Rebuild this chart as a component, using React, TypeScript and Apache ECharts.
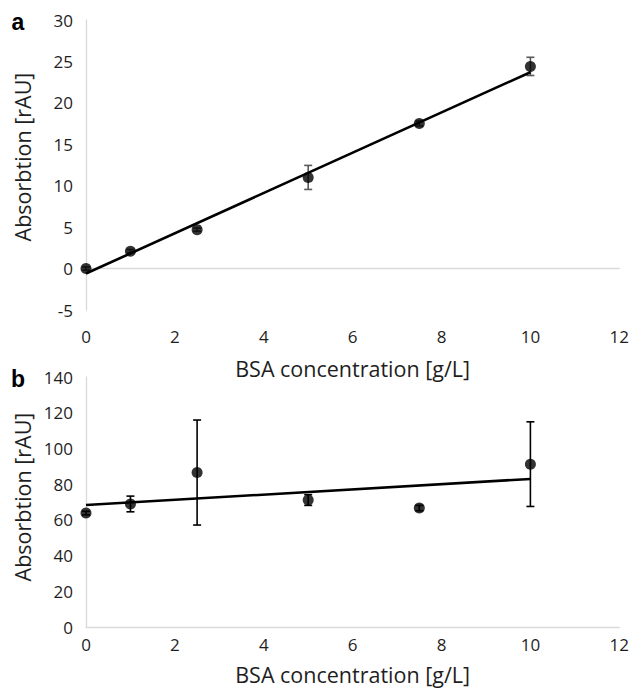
import React, { useEffect, useRef } from "react";
import * as echarts from "echarts";

// Concentrations (x)
const concentrations = [0, 1, 2.5, 5, 7.5, 10];
// Panel a: absorption means and error (±)
const absorptionA = [0.0, 2.1, 4.7, 11.0, 17.5, 24.4];
const errorA = [0.2, 0.2, 0.2, 1.45, 0.3, 1.1];
// Panel a: linear trendline endpoints [x, y]
const trendA = [
  [0, -0.6],
  [10, 23.7],
];
// Panel b: absorption means and error (±)
const absorptionB = [63.8, 68.9, 86.5, 71.1, 66.6, 91.2];
const errorB = [1.0, 4.4, 29.4, 3.0, 1.5, 23.7];
// Panel b: linear trendline endpoints [x, y]
const trendB = [
  [0, 68.3],
  [10, 82.9],
];
// Axis ranges / ticks
const xTicks = { min: 0, max: 12, interval: 2 };
const yTicksA = { min: -5, max: 30, interval: 5 };
const yTicksB = { min: 0, max: 140, interval: 20 };

const xTitle = "BSA concentration [g/L]";
const yTitle = "Absorbtion [rAU]";

const FONT = "'Open Sans', 'Liberation Sans', sans-serif";
const LABEL_COLOR = "#1e1e1e";
const AXIS_COLOR = "#d9d9d9";

function errorBarSeries(
  name: string,
  axisIndex: number,
  xs: number[],
  ys: number[],
  errs: number[],
  color: string
) {
  return {
    name,
    type: "custom",
    xAxisIndex: axisIndex,
    yAxisIndex: axisIndex,
    data: xs.map((x, i) => [x, ys[i], errs[i]]),
    z: 2,
    renderItem: (params: any, api: any) => {
      const x = api.value(0);
      const y = api.value(1);
      const e = api.value(2);
      const top = api.coord([x, y + e]);
      const bot = api.coord([x, y - e]);
      const hw = 4;
      const style = { stroke: color, lineWidth: 1.6 };
      return {
        type: "group",
        children: [
          { type: "line", shape: { x1: top[0], y1: top[1], x2: bot[0], y2: bot[1] }, style },
          { type: "line", shape: { x1: top[0] - hw, y1: top[1], x2: top[0] + hw, y2: top[1] }, style },
          { type: "line", shape: { x1: bot[0] - hw, y1: bot[1], x2: bot[0] + hw, y2: bot[1] }, style },
        ],
      };
    },
  };
}

export default function App() {
  const ref = useRef<HTMLDivElement>(null);

  useEffect(() => {
    if (!ref.current) return;
    const chart = echarts.init(ref.current, undefined, { renderer: "svg" });

    const axisLabel = { color: LABEL_COLOR, fontSize: 17, fontFamily: FONT };
    const nameTextStyle = { color: LABEL_COLOR, fontSize: 21.5, fontFamily: FONT };

    const makeX = (gridIndex: number, margin: number, nameGap: number) => ({
      type: "value",
      gridIndex,
      min: xTicks.min,
      max: xTicks.max,
      interval: xTicks.interval,
      name: xTitle,
      nameLocation: "middle",
      nameGap,
      nameTextStyle,
      axisLine: { show: true, onZero: true, lineStyle: { color: AXIS_COLOR, width: 1.3 } },
      axisTick: { show: false },
      splitLine: { show: false },
      axisLabel: { ...axisLabel, margin },
    });

    const makeY = (gridIndex: number, t: { min: number; max: number; interval: number }) => ({
      type: "value",
      gridIndex,
      min: t.min,
      max: t.max,
      interval: t.interval,
      axisLine: { show: true, onZero: false, lineStyle: { color: AXIS_COLOR, width: 1.3 } },
      axisTick: { show: false },
      splitLine: { show: false },
      axisLabel: { ...axisLabel, margin: 13 },
    });

    const titleText = (text: string, x: number, y: number, rotation = 0, bold = false, size = 21.5, family = FONT) => ({
      type: "text",
      x,
      y,
      rotation,
      style: {
        text,
        fill: bold ? "#000" : LABEL_COLOR,
        font: `${bold ? "bold " : ""}${size}px ${family}`,
        textAlign: "center",
        textVerticalAlign: "middle",
        align: "center",
        verticalAlign: "middle",
      },
    });

    chart.setOption({
      animation: false,
      backgroundColor: "#fff",
      grid: [
        { left: 86, top: 20, width: 535, height: 290 },
        { left: 86, top: 377, width: 535, height: 250 },
      ],
      xAxis: [makeX(0, 18, 47), makeX(1, 9, 36)],
      yAxis: [makeY(0, yTicksA), makeY(1, yTicksB)],
      graphic: [
        titleText(yTitle, 22, 157, Math.PI / 2),
        titleText(yTitle, 22, 497, Math.PI / 2),
        titleText("a", 18, 22, 0, true, 23, "'Liberation Sans', Arial, sans-serif"),
        titleText("b", 18, 379, 0, true, 23, "'Liberation Sans', Arial, sans-serif"),
      ],
      series: [
        errorBarSeries("errA", 0, concentrations, absorptionA, errorA, "#595959"),
        {
          name: "trendA",
          type: "line",
          xAxisIndex: 0,
          yAxisIndex: 0,
          data: trendA,
          symbol: "none",
          lineStyle: { color: "#000", width: 2.6 },
          z: 3,
        },
        {
          name: "A",
          type: "scatter",
          xAxisIndex: 0,
          yAxisIndex: 0,
          data: concentrations.map((x, i) => [x, absorptionA[i]]),
          symbol: "circle",
          symbolSize: 11,
          itemStyle: { color: "#000" },
          z: 4,
        },
        errorBarSeries("errB", 1, concentrations, absorptionB, errorB, "#000"),
        {
          name: "trendB",
          type: "line",
          xAxisIndex: 1,
          yAxisIndex: 1,
          data: trendB,
          symbol: "none",
          lineStyle: { color: "#000", width: 2.6 },
          z: 3,
        },
        {
          name: "B",
          type: "scatter",
          xAxisIndex: 1,
          yAxisIndex: 1,
          data: concentrations.map((x, i) => [x, absorptionB[i]]),
          symbol: "circle",
          symbolSize: 11,
          itemStyle: { color: "#000" },
          z: 4,
        },
      ],
    });

    return () => chart.dispose();
  }, []);

  return (
    <div
      ref={ref}
      style={{ position: "fixed", left: 0, top: 0, width: 632, height: 689, background: "#fff" }}
    />
  );
}
